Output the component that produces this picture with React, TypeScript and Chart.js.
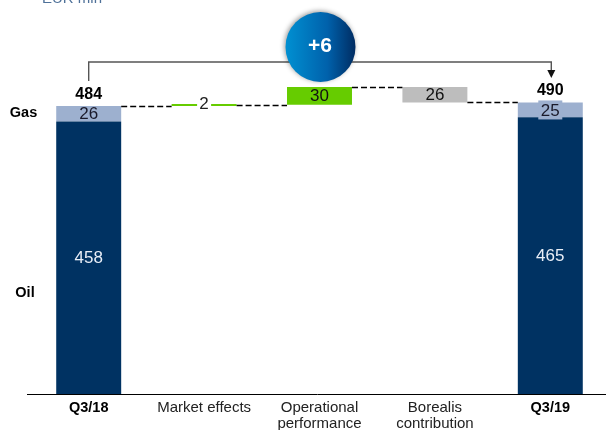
import React, { useEffect, useRef } from "react";
import { Chart, registerables } from "chart.js";

Chart.register(...registerables);

const categories: (string | string[])[] = ["Q3/18", "Market effects", ["Operational", "performance"], ["Borealis", "contribution"], "Q3/19"];
const oilValues = [458, null, null, null, 465];
const gasValues = [26, null, null, null, 25];
const totals = [484, 490];
const marketEffect = 2;
const operationalPerformance = 30;
const borealisContribution = 26;
const delta = "+6";
const unitLabel = "EUR mln";

const FONT = '"Liberation Sans", Arial, sans-serif';

const oilData = oilValues.map((v) => (v == null ? null : [0, v]));
const gasData = gasValues.map((v, i) => (v == null ? null : [oilValues[i] as number, (oilValues[i] as number) + v]));
const level1 = totals[0] + marketEffect;
const level2 = level1 + operationalPerformance;
const level3 = level2 - borealisContribution;
const greenData = [null, [totals[0], level1], [level1, level2], null, null];
const grayData = [null, null, null, [level3, level2], null];

const annotate = {
  id: "annotate",
  afterDatasetsDraw(chart: any) {
    const { ctx, scales } = chart;
    const x = scales.x;
    const y = scales.y;
    const halfBar = chart.getDatasetMeta(0).data[0].width / 2;
    const cx = (i: number) => x.getPixelForValue(i);

    ctx.save();
    // baseline
    ctx.strokeStyle = "#000";
    ctx.lineWidth = 1;
    ctx.beginPath();
    ctx.moveTo(27, Math.round(y.getPixelForValue(0)) + 0.5);
    ctx.lineTo(chart.width, Math.round(y.getPixelForValue(0)) + 0.5);
    ctx.stroke();

    // dashed connectors
    ctx.setLineDash([6, 3]);
    ctx.strokeStyle = "#000";
    ctx.lineWidth = 1.3;
    const conn = (i: number, v: number) => {
      const py = Math.round(y.getPixelForValue(v)) + 0.5;
      ctx.beginPath();
      ctx.moveTo(cx(i) + halfBar, py);
      ctx.lineTo(cx(i + 1) - halfBar, py);
      ctx.stroke();
    };
    conn(0, totals[0]);
    conn(1, level1);
    conn(2, level2);
    conn(3, totals[1]);
    ctx.setLineDash([]);

    // bracket
    const lineY = 62;
    const arrowEnd = 78;
    ctx.strokeStyle = "#555";
    ctx.lineWidth = 1.4;
    ctx.beginPath();
    ctx.moveTo(cx(0), 81);
    ctx.lineTo(cx(0), lineY);
    ctx.lineTo(cx(4) + 1, lineY);
    ctx.lineTo(cx(4) + 1, arrowEnd - 6);
    ctx.stroke();
    ctx.fillStyle = "#111";
    ctx.beginPath();
    ctx.moveTo(cx(4) + 1 - 4, arrowEnd - 8);
    ctx.lineTo(cx(4) + 1 + 4, arrowEnd - 8);
    ctx.lineTo(cx(4) + 1, arrowEnd);
    ctx.closePath();
    ctx.fill();

    // circle
    const ccx = 320.5;
    const ccy = 47;
    const r = 35;
    const grad = ctx.createLinearGradient(ccx - r, 0, ccx + r, 0);
    grad.addColorStop(0, "#0090d2");
    grad.addColorStop(0.6, "#0061ab");
    grad.addColorStop(1, "#002c62");
    ctx.save();
    ctx.shadowColor = "rgba(0,0,0,0.4)";
    ctx.shadowBlur = 5;
    ctx.shadowOffsetX = -1;
    ctx.shadowOffsetY = -1;
    ctx.fillStyle = grad;
    ctx.beginPath();
    ctx.arc(ccx, ccy, r, 0, Math.PI * 2);
    ctx.fill();
    ctx.restore();

    ctx.textAlign = "center";
    ctx.textBaseline = "middle";
    ctx.fillStyle = "#fff";
    ctx.font = `bold 21px ${FONT}`;
    ctx.fillText(delta, ccx - 0.5, ccy - 1);

    // totals
    ctx.fillStyle = "#000";
    ctx.font = `bold 16px ${FONT}`;
    ctx.fillText(String(totals[0]), cx(0), 94.5);
    ctx.fillText(String(totals[1]), cx(4), 90.5);

    // 25 label box
    ctx.fillStyle = "#9db0cf";
    ctx.fillRect(cx(4) - 12, y.getPixelForValue(490) - 2, 24, 19);

    // value labels
    ctx.font = `17px ${FONT}`;
    ctx.fillStyle = "#1a1a2a";
    ctx.fillText(String(gasValues[0]), cx(0), y.getPixelForValue(469.5));
    ctx.fillText(String(gasValues[4]), cx(4), y.getPixelForValue(475));
    ctx.fillStyle = "#111";
    ctx.fillText(String(operationalPerformance), cx(2), y.getPixelForValue((level1 + level2) / 2) + 0.5);
    ctx.fillText(String(borealisContribution), cx(3), y.getPixelForValue((level2 + level3) / 2) + 0.5);

    ctx.fillStyle = "#fff";
    ctx.fillRect(cx(1) - 7, 96, 14, 17);
    ctx.fillStyle = "#222";
    ctx.fillText(String(marketEffect), cx(1), 104.5);

    ctx.fillStyle = "#e8eef7";
    ctx.fillText(String(oilValues[0]), cx(0), y.getPixelForValue(227.5));
    ctx.fillText(String(oilValues[4]), cx(4), y.getPixelForValue(231));

    // row labels
    ctx.fillStyle = "#000";
    ctx.font = `bold 14.5px ${FONT}`;
    ctx.fillText("Gas", 23.5, 113);
    ctx.fillText("Oil", 25, 293);

    // unit
    ctx.fillStyle = "#4f7199";
    ctx.font = `15px ${FONT}`;
    ctx.textAlign = "left";
    ctx.fillText(unitLabel, 42, -1);
    ctx.restore();
  },
};

export default function App() {
  const ref = useRef<HTMLCanvasElement>(null);
  useEffect(() => {
    const common = { barPercentage: 1, categoryPercentage: 0.563, borderWidth: 0, grouped: false, minBarLength: 2 };
    const chart = new Chart(ref.current as HTMLCanvasElement, {
      type: "bar",
      data: {
        labels: categories as any,
        datasets: [
          { label: "Oil", data: oilData as any, backgroundColor: "#003262", ...common },
          { label: "Gas", data: gasData as any, backgroundColor: "#9db0cf", ...common },
          { label: "Increase", data: greenData as any, backgroundColor: "#66cc00", ...common },
          { label: "Borealis", data: grayData as any, backgroundColor: "#bdbdbd", ...common },
        ],
      },
      options: {
        animation: false,
        responsive: false,
        devicePixelRatio: 1,
        layout: { padding: { left: 31, top: 37, right: 0, bottom: 0 } },
        plugins: { legend: { display: false }, tooltip: { enabled: false } },
        scales: {
          y: { display: false, min: 0, max: 600 },
          x: {
            afterFit(scale: any) {
              scale.height = 36;
            },
            grid: { display: false, drawTicks: false },
            border: { display: false },
            ticks: {
              maxRotation: 0,
              autoSkip: false,
              padding: 6,
              color: (c: any) => (c.index === 0 || c.index === 4 ? "#000" : "#222"),
              font: (c: any) =>
                c.index === 0 || c.index === 4
                  ? { family: FONT, size: 14.5, weight: "bold", lineHeight: 1.05 }
                  : { family: FONT, size: 15, weight: "normal", lineHeight: 1.05 },
            },
          },
        },
      } as any,
      plugins: [annotate],
    });
    return () => chart.destroy();
  }, []);
  return (
    <div style={{ position: "absolute", left: 0, top: 0, width: 606, height: 430, overflow: "hidden", background: "#fff" }}>
      <canvas ref={ref} width={608} height={430} style={{ display: "block" }} />
    </div>
  );
}
